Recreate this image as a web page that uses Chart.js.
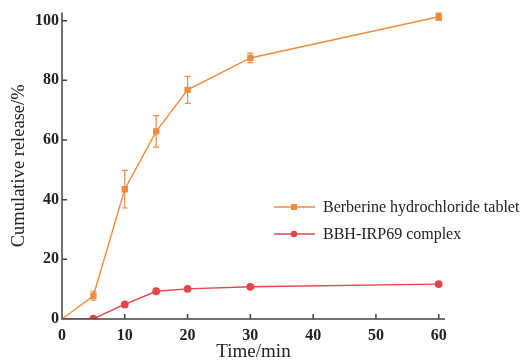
<!DOCTYPE html>
<html>
<head>
<meta charset="utf-8">
<script src="https://cdn.jsdelivr.net/npm/chart.js@4/dist/chart.umd.min.js"></script>
<style>
  html, body { margin: 0; padding: 0; background: #fff; }
  #wrap { width: 521px; height: 362px; }
</style>
</head>
<body>
<div id="wrap"><canvas id="c" width="521" height="362"></canvas></div>
<script>
// Release data
const times       = [0, 5, 10, 15, 20, 30, 60];
const tabletVals  = [0, 7.8, 43.5, 62.9, 76.8, 87.5, 101.3];
const tabletErr   = [0, 1.5, 6.3, 5.3, 4.5, 1.6, 1.2];
const complexVals = [0, 0.1, 4.9, 9.3, 10.1, 10.8, 11.7];
const xTicks = [0, 10, 20, 30, 40, 50, 60];
const yTicks = [0, 20, 40, 60, 80, 100];
const seriesNames = ['Berberine hydrochloride tablet', 'BBH-IRP69 complex'];

const ORANGE = '#f08c3c';
const RED    = '#e5444c';
const AXIS   = '#444';
const FONT   = '"Liberation Serif", "Times New Roman", serif';

const pts = vals => times.map((t, i) => ({ x: t, y: vals[i] }));

// error bars on the tablet series
const errorBars = {
  id: 'errorBars',
  afterDatasetsDraw(chart) {
    const { ctx, scales: { x, y } } = chart;
    ctx.save();
    ctx.strokeStyle = ORANGE;
    ctx.lineWidth = 1.2;
    times.forEach((t, i) => {
      if (!tabletErr[i]) return;
      const px = x.getPixelForValue(t);
      const top = y.getPixelForValue(tabletVals[i] + tabletErr[i]);
      const bot = y.getPixelForValue(tabletVals[i] - tabletErr[i]);
      ctx.beginPath();
      ctx.moveTo(px, top); ctx.lineTo(px, bot);
      ctx.moveTo(px - 3, top); ctx.lineTo(px + 3, top);
      ctx.moveTo(px - 3, bot); ctx.lineTo(px + 3, bot);
      ctx.stroke();
    });
    ctx.restore();
  }
};

// axis lines with inward ticks
const axesFrame = {
  id: 'axesFrame',
  afterDatasetsDraw(chart) {
    const { ctx, chartArea: a, scales: { x, y } } = chart;
    ctx.save();
    ctx.strokeStyle = AXIS;
    ctx.lineWidth = 1.5;
    ctx.beginPath();
    ctx.moveTo(a.left, a.top); ctx.lineTo(a.left, a.bottom); ctx.lineTo(a.right, a.bottom);
    xTicks.forEach(v => { const px = x.getPixelForValue(v); ctx.moveTo(px, a.bottom); ctx.lineTo(px, a.bottom - 5); });
    yTicks.forEach(v => { const py = y.getPixelForValue(v); ctx.moveTo(a.left, py); ctx.lineTo(a.left + 5, py); });
    ctx.stroke();
    ctx.restore();
  }
};

// legend drawn inside the plot, right side
const innerLegend = {
  id: 'innerLegend',
  afterDraw(chart) {
    const { ctx } = chart;
    const rows = [
      { name: seriesNames[0], color: ORANGE, square: true,  y: 207 },
      { name: seriesNames[1], color: RED,    square: false, y: 234 },
    ];
    ctx.save();
    ctx.font = '16px ' + FONT;
    ctx.textBaseline = 'middle';
    rows.forEach(r => {
      ctx.strokeStyle = r.color; ctx.fillStyle = r.color; ctx.lineWidth = 1.3;
      ctx.beginPath(); ctx.moveTo(274, r.y); ctx.lineTo(315, r.y); ctx.stroke();
      ctx.beginPath();
      if (r.square) ctx.rect(291, r.y - 3, 6, 6); else ctx.arc(294, r.y, 3.3, 0, Math.PI * 2);
      ctx.fill();
      ctx.fillStyle = '#222';
      ctx.fillText(r.name, 323, r.y + 1);
    });
    ctx.restore();
  }
};

new Chart(document.getElementById('c'), {
  type: 'line',
  data: {
    datasets: [
      { label: seriesNames[0], data: pts(tabletVals), borderColor: ORANGE, backgroundColor: ORANGE,
        borderWidth: 1.4, pointStyle: 'rect', pointRadius: c => c.dataIndex === 0 ? 0 : 3.5, tension: 0 },
      { label: seriesNames[1], data: pts(complexVals), borderColor: RED, backgroundColor: RED,
        borderWidth: 1.4, pointStyle: 'circle', pointRadius: c => c.dataIndex === 0 ? 0 : 3.2, tension: 0 },
    ],
  },
  options: {
    responsive: false,
    animation: false,
    layout: { padding: { top: 12, right: 76, left: 0, bottom: 0 } },
    plugins: { legend: { display: false }, tooltip: { enabled: false } },
    scales: {
      x: {
        type: 'linear', min: 0, max: 61,
        afterBuildTicks: s => { s.ticks = xTicks.map(v => ({ value: v })); },
        afterFit: s => { s.height = 43; },
        grid: { display: false, drawTicks: false },
        border: { display: false },
        ticks: { color: '#222', padding: 7, font: { family: FONT, size: 16, weight: 'bold' }, maxRotation: 0 },
        title: { display: true, text: 'Time/min', color: '#222', padding: { top: 0, bottom: 0 }, font: { family: FONT, size: 19, lineHeight: 1 } },
      },
      y: {
        min: 0, max: 102.7,
        afterBuildTicks: s => { s.ticks = yTicks.map(v => ({ value: v })); },
        afterFit: s => { s.width = 62; },
        grid: { display: false, drawTicks: false },
        border: { display: false },
        ticks: { color: '#222', padding: 3, font: { family: FONT, size: 16, weight: 'bold' } },
        title: { display: true, text: 'Cumulative release/%', color: '#222', padding: { top: 10, bottom: 0 }, font: { family: FONT, size: 18.5, lineHeight: 1 } },
      },
    },
  },
  plugins: [errorBars, axesFrame, innerLegend],
});
</script>
</body>
</html>
